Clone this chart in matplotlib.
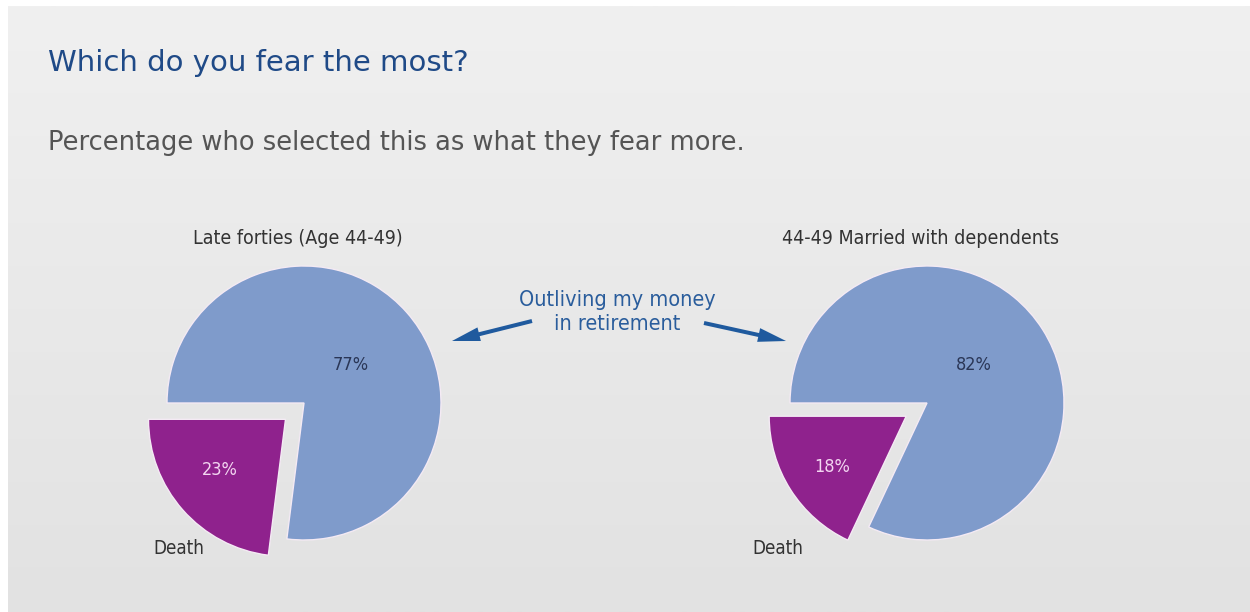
import matplotlib.pyplot as plt
import numpy as np

# Chart data
pie_titles = ["Late forties (Age 44-49)", "44-49 Married with dependents"]
categories = ["Death", "Outliving my money\nin retirement"]
death_pct = [23, 18]
money_pct = [77, 82]

W, H = 1250, 612
BLUE = "#7f9bcb"
PURPLE = "#8f228d"

fig = plt.figure(figsize=(W / 100, H / 100), dpi=100)
fig.patch.set_facecolor("white")
ax = fig.add_axes([0, 0, 1, 1])


def py(y):
    # picture y (top-down) to axes y (bottom-up)
    return H - y


# grey gradient panel
grad = np.linspace(0, 1, 256).reshape(-1, 1)
ax.imshow(grad, cmap=plt.matplotlib.colors.LinearSegmentedColormap.from_list(
    "bg", ["#f0f0f0", "#e2e2e2"]), aspect="auto",
    extent=[8, W, 0, py(6)], origin="upper", zorder=0)

ax.text(48, py(63), "Which do you fear the most?", fontsize=21,
        color="#1f4a87", family="DejaVu Sans", va="center", ha="left")
ax.text(48, py(143), "Percentage who selected this as what they fear more.",
        fontsize=18.5, color="#555555", family="DejaVu Sans", va="center", ha="left")

narrow = dict(family="DejaVu Sans", fontstretch="condensed")
centers = [(304, 403), (927, 403)]
radius = 137
pct_frac = [(0.6, 0.45), (0.66, 0.43)]
# small nudges (x, y) for the percentage labels, per pie / per wedge
nudge = [[(-4, 4), (0, -3)], [(2, -2), (-3, 6)]]
death_x = [153, 752]

for i in range(2):
    cx, cy = centers[i]
    vals = [death_pct[i], money_pct[i]]
    wedges, _ = ax.pie(vals, colors=[PURPLE, BLUE], startangle=180,
                       explode=[0.18 * radius, 0], radius=radius,
                       center=(cx, py(cy)),
                       wedgeprops=dict(edgecolor="#f4eaf4", linewidth=1))
    for j, w in enumerate(wedges):
        ang = np.deg2rad((w.theta1 + w.theta2) / 2)
        wx, wy = w.center
        r = w.r * pct_frac[i][j]
        col = "#f3d6f1" if j == 0 else "#2a3656"
        dx, dy = nudge[i][j]
        ax.text(wx + r * np.cos(ang) + dx, wy + r * np.sin(ang) + dy,
                f"{vals[j]}%", ha="center", va="center", fontsize=13,
                color=col, **narrow)
    ax.text(cx - 6, py(238), pie_titles[i], ha="center", va="center",
            fontsize=14, color="#333333", **narrow)
    ax.text(death_x[i], py(548), categories[0], ha="left", va="center",
            fontsize=13.5, color="#333333", **narrow)

ax.text(617, py(312), categories[1], ha="center", va="center", fontsize=15.5,
        color="#2a5d9c", linespacing=1.25, **narrow)
arrow = dict(width=4, head_width=14, head_length=28, length_includes_head=True,
             color="#1f5a9e", linewidth=0)
ax.arrow(532, py(321), 452 - 532, py(341) - py(321), **arrow)
ax.arrow(704, py(323), 786 - 704, py(341) - py(323), **arrow)

ax.set_xlim(0, W)
ax.set_ylim(0, H)
ax.set_aspect("auto")
ax.axis("off")

fig.savefig("out.png", dpi=100, facecolor=fig.get_facecolor())
